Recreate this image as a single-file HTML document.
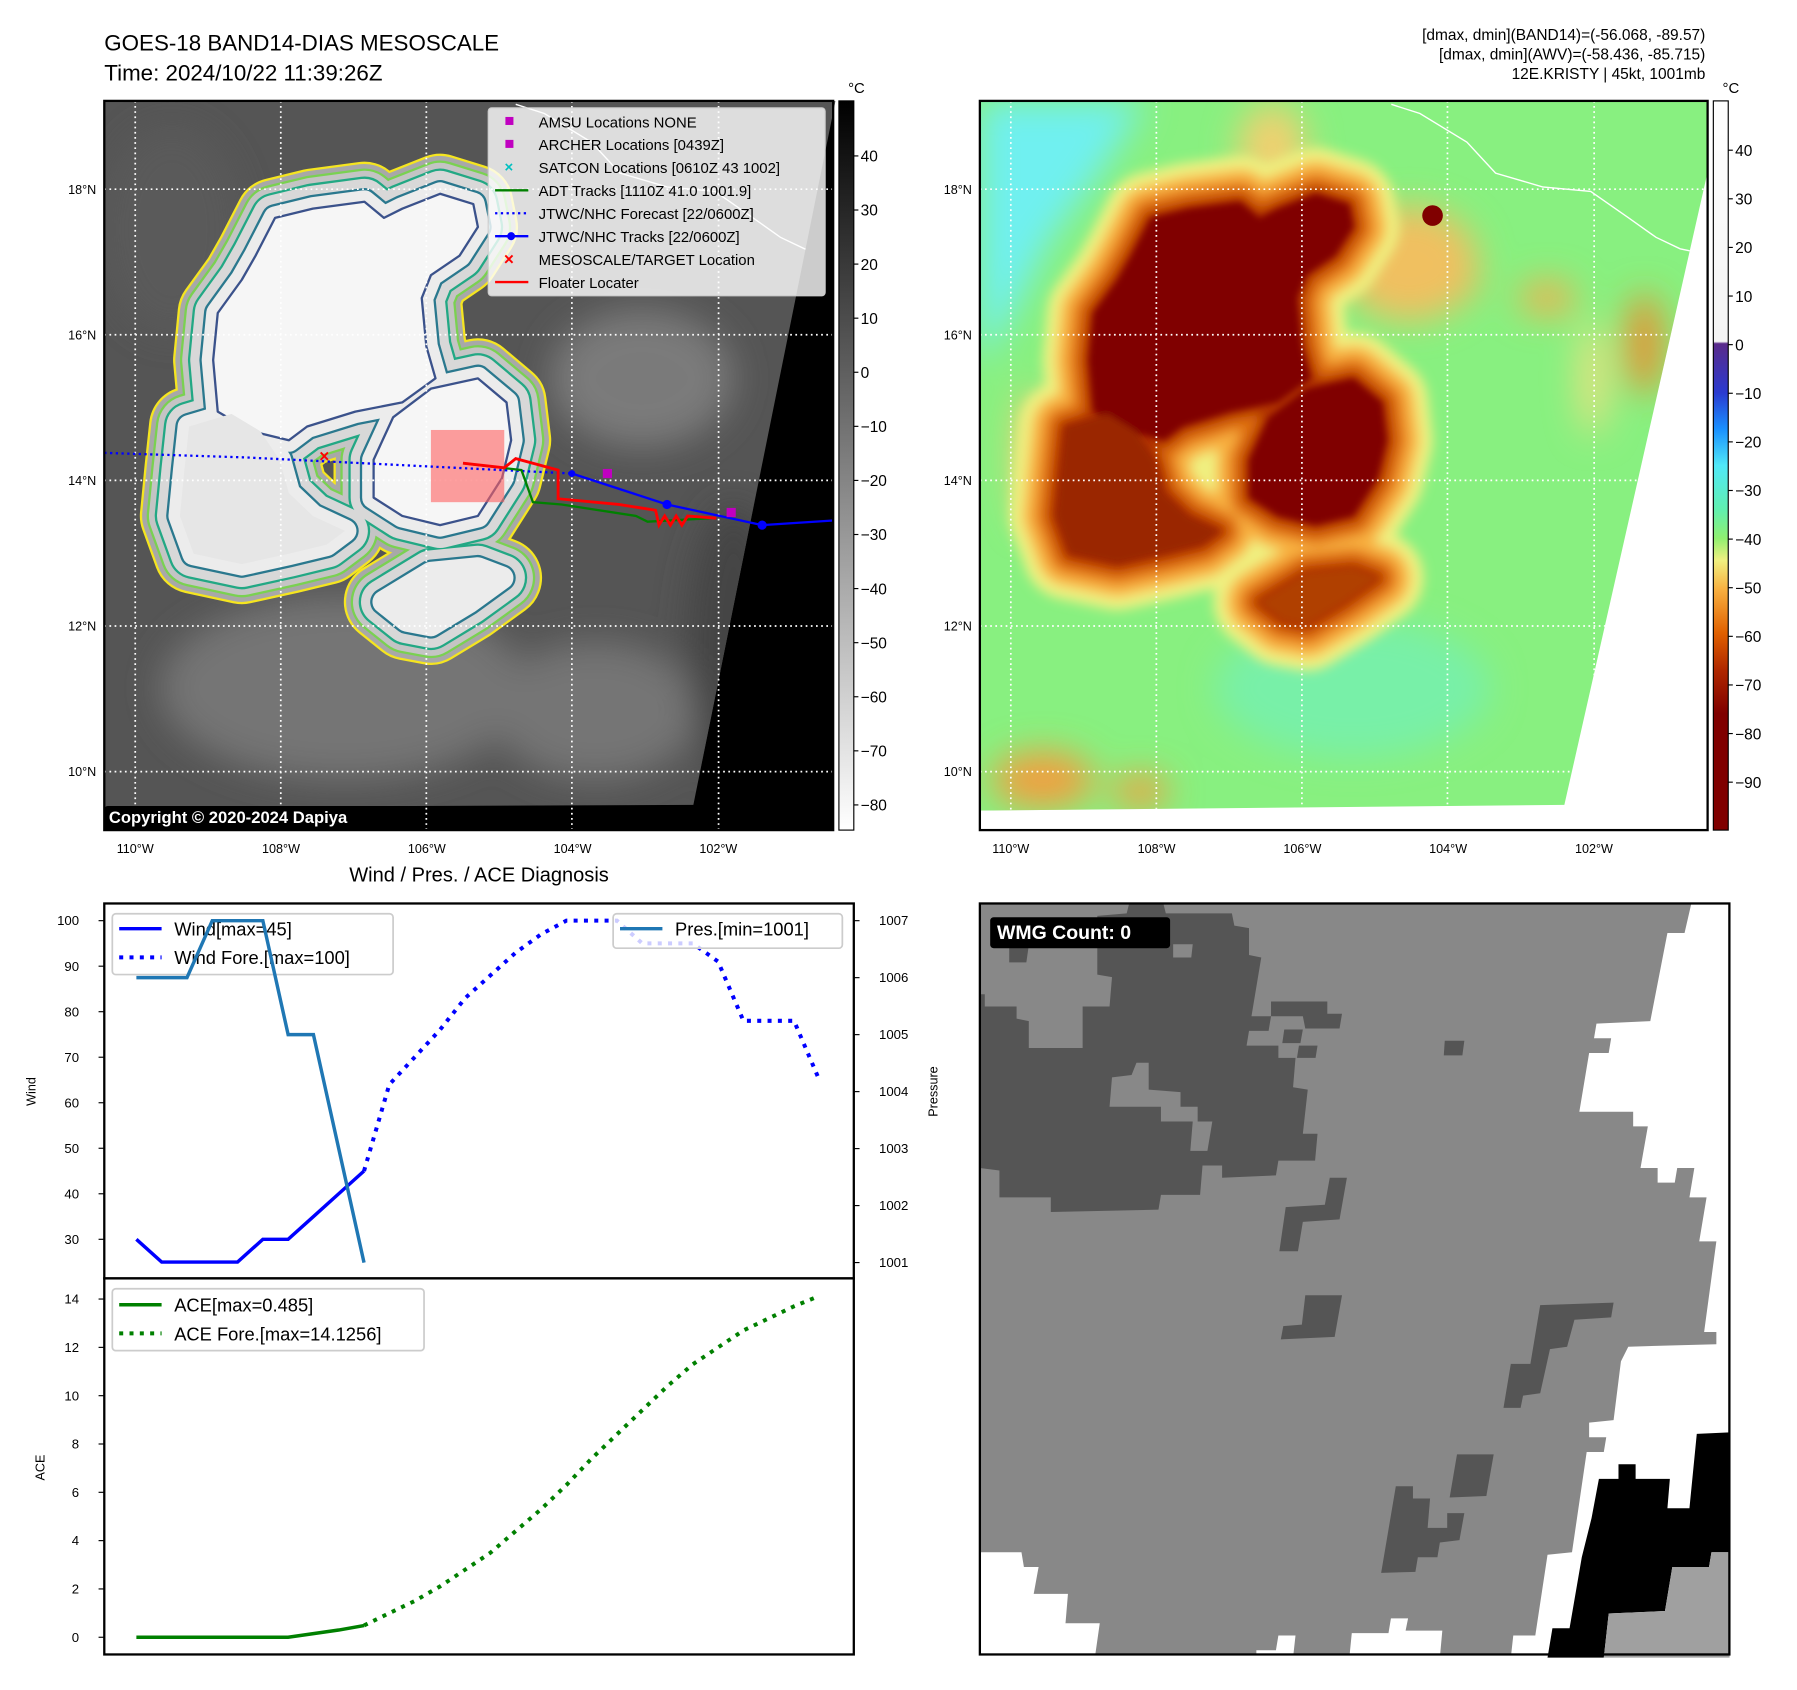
<!DOCTYPE html>
<html><head><meta charset="utf-8"><style>
html,body{margin:0;padding:0;background:#fff;}
svg{display:block;font-family:"Liberation Sans","DejaVu Sans",sans-serif;}
</style></head><body>
<svg id="fig" width="1797" height="1690" viewBox="0 0 1568 1474" preserveAspectRatio="none" xmlns="http://www.w3.org/2000/svg">
<defs>
<filter id="b6" x="-20%" y="-20%" width="140%" height="140%"><feGaussianBlur stdDeviation="5"/></filter>
<filter id="b3" x="-20%" y="-20%" width="140%" height="140%"><feGaussianBlur stdDeviation="3"/></filter>
<filter id="b15" x="-50%" y="-50%" width="200%" height="200%"><feGaussianBlur stdDeviation="15"/></filter>
<clipPath id="clipL"><rect x="91" y="88" width="636" height="636"/></clipPath>
<clipPath id="clipR"><polygon points="855,88 1490,88 1490,150 1365,702 855,707"/></clipPath>
<clipPath id="clipLd"><polygon points="91,88 729,88 605,702 91,704"/></clipPath>
<linearGradient id="gbar" x1="0" y1="0" x2="0" y2="1"><stop offset="0" stop-color="#000"/><stop offset="1" stop-color="#fff"/></linearGradient>
<linearGradient id="cbar" x1="0" y1="0" x2="0" y2="1">
<stop offset="0" stop-color="#ffffff"/><stop offset="0.33" stop-color="#f4f4f4"/>
<stop offset="0.333" stop-color="#5a2a8a"/><stop offset="0.40" stop-color="#2a3ad0"/>
<stop offset="0.45" stop-color="#1a90ff"/><stop offset="0.50" stop-color="#50e8f8"/>
<stop offset="0.56" stop-color="#60f0b0"/><stop offset="0.60" stop-color="#90f070"/>
<stop offset="0.63" stop-color="#f0f080"/><stop offset="0.67" stop-color="#f8b040"/>
<stop offset="0.73" stop-color="#e06000"/><stop offset="0.78" stop-color="#b02800"/>
<stop offset="0.84" stop-color="#800000"/><stop offset="1" stop-color="#800000"/>
</linearGradient>
<path id="pN" d="M987,223 L1004,190 L1037,182 L1082,176 L1099,190 L1115,182 L1148,169 L1177,178 L1181,198 L1165,223 L1140,240 L1132,260 L1136,302 L1144,330 L1115,351 L1074,359 L1032,372 L1016,384 L983,376 L954,359 L950,314 L954,273 L975,244 Z"/>
<path id="pE" d="M1090,401 L1107,364 L1140,339 L1181,330 L1206,351 L1210,384 L1202,417 L1181,450 L1148,458 L1115,450 L1090,434 Z"/>
<path id="pSW" d="M929,372 L966,361 L991,376 L1008,401 L1016,430 L1037,450 L1065,463 L1049,475 L1016,483 L975,492 L933,483 L921,450 L925,409 Z"/>
<path id="pS" d="M1099,525 L1140,500 L1181,496 L1202,504 L1173,525 L1140,545 L1119,541 Z"/>
<g id="shp"><use href="#pN"/><use href="#pE"/><use href="#pSW"/><use href="#pS"/></g>
</defs>

<text x="91" y="44" font-size="19.5">GOES-18 BAND14-DIAS MESOSCALE</text>
<text x="91" y="70" font-size="19.5">Time: 2024/10/22 11:39:26Z</text>
<g font-size="13.5" text-anchor="end">
<text x="1488" y="35">[dmax, dmin](BAND14)=(-56.068, -89.57)</text>
<text x="1488" y="52">[dmax, dmin](AWV)=(-58.436, -85.715)</text>
<text x="1488" y="69">12E.KRISTY | 45kt, 1001mb</text>
</g>

<g>
<rect x="91" y="88" width="636" height="636" fill="#000"/>
<g clip-path="url(#clipLd)">
<rect x="91" y="88" width="640" height="620" fill="#555"/>
<g filter="url(#b15)" fill="#747474">
<ellipse cx="300" cy="600" rx="160" ry="80"/><ellipse cx="520" cy="620" rx="90" ry="60"/>
<ellipse cx="560" cy="330" rx="80" ry="60" fill="#7a7a7a"/><ellipse cx="150" cy="200" rx="60" ry="90" fill="#5a5a5a"/>
<ellipse cx="640" cy="560" rx="40" ry="120" fill="#444"/>
</g>
<g transform="translate(-764,0)" stroke-linejoin="round">
<use href="#shp" fill="#f5e520" stroke="#f5e520" stroke-width="70"/>
<use href="#shp" fill="#a8a8a8" stroke="#a8a8a8" stroke-width="66"/>
<use href="#shp" fill="#7ad151" stroke="#7ad151" stroke-width="58"/>
<use href="#shp" fill="#c4c4c4" stroke="#c4c4c4" stroke-width="54"/>
<use href="#shp" fill="#22a884" stroke="#22a884" stroke-width="44"/>
<use href="#shp" fill="#d8d8d8" stroke="#d8d8d8" stroke-width="40"/>
<use href="#shp" fill="#2a788e" stroke="#2a788e" stroke-width="24"/>
<use href="#shp" fill="#ececec" stroke="#ececec" stroke-width="20"/>
<use href="#pN" fill="#f6f6f6" stroke="#3b528b" stroke-width="2"/>
<use href="#pE" fill="#f6f6f6" stroke="#3b528b" stroke-width="2"/>
<use href="#pSW" fill="#e6e6e6" stroke="none"/>
</g>
<path d="M450,91 L475,99 L516,124 L541,151 L582,163 L624,167 L657,190 L681,207 L702,217 L727,222" fill="none" stroke="#fff" stroke-width="1.2"/>
</g>
<g stroke="#fff" stroke-width="1.5" stroke-dasharray="1.5,3">
<line x1="118" y1="88" x2="118" y2="724"/><line x1="245" y1="88" x2="245" y2="724"/><line x1="372" y1="88" x2="372" y2="724"/><line x1="499" y1="88" x2="499" y2="724"/><line x1="627" y1="88" x2="627" y2="724"/>
<line x1="91" y1="165" x2="727" y2="165"/><line x1="91" y1="292" x2="727" y2="292"/><line x1="91" y1="419" x2="727" y2="419"/><line x1="91" y1="546" x2="727" y2="546"/><line x1="91" y1="673" x2="727" y2="673"/>
</g>
<rect x="376" y="375" width="64" height="63" fill="#ff6060" opacity="0.6"/>
<polyline points="91,395 215,399 499,413" fill="none" stroke="#0000ff" stroke-width="2" stroke-dasharray="2,3"/>
<polyline points="499,413 582,440 665,458 727,454" fill="none" stroke="#0000ff" stroke-width="2"/>
<circle cx="499" cy="413" r="3" fill="#00f"/><circle cx="582" cy="440" r="4" fill="#00f"/><circle cx="665" cy="458" r="4" fill="#00f"/>
<polyline points="404,404 455,410 465,438 490,440 555,450 565,455 620,452" fill="none" stroke="#008000" stroke-width="2"/>
<polyline points="404,404 440,408 450,400 487,410 487,435 540,440 572,445 575,458 580,450 585,458 590,450 595,458 600,450 625,452" fill="none" stroke="#ff0000" stroke-width="2.5"/>
<text x="283" y="403" font-size="15" fill="#f00" text-anchor="middle" font-weight="bold">×</text>
<rect x="526" y="409" width="8" height="8" fill="#c000c0"/>
<rect x="634" y="443" width="8" height="8" fill="#c000c0"/>
<rect x="91" y="88" width="636" height="636" fill="none" stroke="#000" stroke-width="2"/>
<g>
<rect x="426" y="94" width="294" height="164" rx="3" fill="#fff" fill-opacity="0.8" stroke="#ccc"/>
<g font-size="13">
<rect x="441" y="102" width="7" height="7" fill="#c000c0"/><text x="470" y="111">AMSU Locations NONE</text>
<rect x="441" y="122" width="7" height="7" fill="#c000c0"/><text x="470" y="131">ARCHER Locations [0439Z]</text>
<text x="444" y="150" fill="#00c0c0" text-anchor="middle" font-weight="bold">×</text><text x="470" y="151">SATCON Locations [0610Z 43 1002]</text>
<line x1="432" y1="166" x2="461" y2="166" stroke="#008000" stroke-width="2"/><text x="470" y="171">ADT Tracks [1110Z 41.0 1001.9]</text>
<line x1="432" y1="186" x2="461" y2="186" stroke="#00f" stroke-width="2" stroke-dasharray="2,3"/><text x="470" y="191">JTWC/NHC Forecast [22/0600Z]</text>
<line x1="432" y1="206" x2="461" y2="206" stroke="#00f" stroke-width="2"/><circle cx="446" cy="206" r="3.5" fill="#00f"/><text x="470" y="211">JTWC/NHC Tracks [22/0600Z]</text>
<text x="444" y="231" fill="#f00" text-anchor="middle" font-weight="bold" font-size="15">×</text><text x="470" y="231">MESOSCALE/TARGET Location</text>
<line x1="432" y1="246" x2="461" y2="246" stroke="#f00" stroke-width="2"/><text x="470" y="251">Floater Locater</text>
</g></g>
<rect x="91" y="703" width="267" height="20" rx="3" fill="#000"/>
<text x="95" y="718" font-size="14.5" font-weight="bold" fill="#fff">Copyright © 2020-2024 Dapiya</text>
</g>
<g>
<rect x="732" y="88" width="13" height="636" fill="url(#gbar)" stroke="#000" stroke-width="1"/>
<text x="740" y="81" font-size="13">°C</text>
<g font-size="13.5" id="lcb"></g>
</g>
<g font-size="11" text-anchor="end" id="llat"></g>
<g font-size="11" text-anchor="middle" id="llon"></g>

<g>
<rect x="855" y="88" width="635" height="636" fill="#fff"/>
<g clip-path="url(#clipR)">
<rect x="855" y="88" width="640" height="625" fill="#88f080"/>
<g filter="url(#b15)">
<polygon points="855,88 1000,88 960,150 915,210 885,270 855,320" fill="#70f0f0"/>
<ellipse cx="1180" cy="600" rx="120" ry="60" fill="#78f0a8"/>
<ellipse cx="1270" cy="250" rx="20" ry="12" fill="#f0a040"/><ellipse cx="1350" cy="260" rx="25" ry="15" fill="#f0b050"/>
<ellipse cx="1435" cy="300" rx="16" ry="45" fill="#e89030"/><ellipse cx="1390" cy="330" rx="12" ry="50" fill="#f0e080"/>
<ellipse cx="910" cy="680" rx="45" ry="25" fill="#f0a040"/><ellipse cx="995" cy="690" rx="25" ry="15" fill="#f0a040"/>
<ellipse cx="900" cy="400" rx="15" ry="60" fill="#f0d070"/><ellipse cx="1110" cy="130" rx="30" ry="40" fill="#f0d070"/>
<ellipse cx="1230" cy="230" rx="60" ry="50" fill="#f0c060"/>
</g>
<g filter="url(#b6)" stroke-linejoin="round">
<use href="#shp" fill="#f0f080" stroke="#f0f080" stroke-width="80"/>
<use href="#shp" fill="#f8b040" stroke="#f8b040" stroke-width="56"/>
<use href="#shp" fill="#e07010" stroke="#e07010" stroke-width="34"/>
<use href="#shp" fill="#b03000" stroke="#b03000" stroke-width="14"/>
</g>
<g filter="url(#b3)">
<use href="#pN" fill="#800000"/><use href="#pE" fill="#800000"/>
<use href="#pSW" fill="#9a2606"/><use href="#pS" fill="#b04000"/>
</g>
<circle cx="1250" cy="188" r="9" fill="#800000"/>
<path d="M1214,91 L1239,99 L1280,124 L1305,151 L1346,163 L1388,167 L1421,190 L1445,207 L1466,217 L1490,222" fill="none" stroke="#fff" stroke-width="1.2"/>
</g>
<g stroke="#fff" stroke-width="1.5" stroke-dasharray="1.5,3" clip-path="url(#clipR)">
<line x1="882" y1="88" x2="882" y2="724"/><line x1="1009" y1="88" x2="1009" y2="724"/><line x1="1136" y1="88" x2="1136" y2="724"/><line x1="1263" y1="88" x2="1263" y2="724"/><line x1="1391" y1="88" x2="1391" y2="724"/>
<line x1="855" y1="165" x2="1490" y2="165"/><line x1="855" y1="292" x2="1490" y2="292"/><line x1="855" y1="419" x2="1490" y2="419"/><line x1="855" y1="546" x2="1490" y2="546"/><line x1="855" y1="673" x2="1490" y2="673"/>
</g>
<rect x="855" y="88" width="635" height="636" fill="none" stroke="#000" stroke-width="2"/>
</g>
<g>
<rect x="1495" y="88" width="13" height="636" fill="url(#cbar)" stroke="#000" stroke-width="1"/>
<text x="1503" y="81" font-size="13">°C</text>
<g font-size="13.5" id="rcb"></g>
</g>
<g font-size="11" text-anchor="end" id="rlat"></g>
<g font-size="11" text-anchor="middle" id="rlon"></g>

<text x="418" y="769" font-size="17.5" text-anchor="middle">Wind / Pres. / ACE Diagnosis</text>
<g id="windChart"></g>
<g id="aceChart"></g>

<g>
<rect x="855" y="788" width="654" height="655" fill="#888"/>
<g transform="translate(855,786) scale(0.427)">
<polygon fill="#555" points="0,190 0,545 40,550 40,605 145,605 145,635 365,630 370,600 450,600 455,540 495,540 495,565 605,560 610,530 685,530 690,475 660,475 670,385 640,380 645,320 610,320 610,295 545,295 550,265 590,265 595,235 555,235 575,115 550,110 550,55 520,50 515,25 380,25 375,5 305,5 300,25 240,30 240,150 270,155 265,215 210,215 210,300 100,300 100,245 75,240 75,215 10,215 10,190"/>
<polygon fill="#888" points="270,360 310,355 320,330 345,330 345,385 410,390 410,420 445,420 445,450 475,450 465,510 430,510 435,450 370,450 370,420 265,420"/>
<polygon fill="#888" points="395,88 435,88 432,115 395,115"/>
<polygon fill="#555" points="60,90 100,90 95,125 60,125"/>
<polygon fill="#555" points="595,205 710,205 710,230 740,230 735,260 665,260 660,235 595,235"/>
<polygon fill="#555" points="622,262 660,262 655,290 618,290"/><polygon fill="#555" points="652,295 690,295 686,320 648,320"/>
<polygon fill="#555" points="950,285 990,285 986,315 948,315"/>
<polygon fill="#555" points="625,625 705,620 715,565 750,565 735,650 660,655 650,715 612,715"/>
<polygon fill="#555" points="665,805 740,805 725,890 615,895 620,868 658,865"/>
<polygon fill="#555" points="1145,825 1295,820 1290,850 1215,855 1200,910 1165,915 1145,1005 1110,1010 1105,1035 1070,1035 1085,945 1125,945"/>
<polygon fill="#555" points="975,1130 1050,1130 1035,1215 960,1218"/>
<polygon fill="#555" points="850,1195 885,1195 885,1220 920,1220 915,1280 955,1280 955,1250 990,1250 980,1305 940,1310 935,1340 895,1340 890,1370 820,1372"/>
<polygon fill="#fff" points="1455,0 1440,65 1405,65 1370,245 1260,250 1255,280 1290,280 1285,310 1245,310 1225,430 1335,430 1335,460 1365,460 1350,545 1385,545 1385,575 1420,575 1425,545 1460,545 1450,605 1485,605 1470,695 1505,695 1480,880 1505,880 1505,905 1325,910 1310,940 1295,1060 1245,1065 1245,1095 1280,1095 1275,1125 1240,1125 1210,1330 1160,1335 1135,1500 1090,1500 1085,1545 1532,1545 1532,0"/>
<polygon fill="#000" points="1465,1088 1532,1085 1532,1330 1495,1330 1490,1360 1415,1360 1400,1450 1285,1455 1275,1545 1160,1545 1170,1485 1205,1485 1230,1340 1250,1260 1265,1180 1305,1180 1305,1150 1340,1150 1340,1180 1410,1180 1405,1240 1450,1240"/>
<polygon fill="#a0a0a0" points="1495,1330 1532,1330 1532,1545 1275,1545 1285,1455 1400,1450 1415,1360 1490,1360"/>
<polygon fill="#fff" points="0,1330 85,1330 90,1360 120,1360 110,1415 180,1415 175,1475 245,1475 235,1545 0,1545"/>
<polygon fill="#fff" points="565,1530 605,1530 610,1500 645,1500 640,1545 565,1545"/>
<polygon fill="#fff" points="755,1545 760,1495 835,1495 840,1465 875,1465 870,1490 945,1490 940,1545"/>
</g>
<rect x="855" y="788" width="654" height="655" fill="none" stroke="#000" stroke-width="2"/>
<rect x="864" y="800" width="157" height="27" rx="3" fill="#000"/>
<text x="870" y="819" font-size="17" font-weight="bold" fill="#fff">WMG Count: 0</text>
</g>
</svg>
<script>
// ---- chart data ----
const windObs = [30, 25, 25, 25, 25, 30, 30, 35, 40, 45];
const presObs = [1006, 1006, 1006, 1007, 1007, 1007, 1005, 1005, 1003, 1001];
const windFore = [45, 64, 70, 76, 83, 88, 93, 97, 100, 100, 100, 95, 95, 95, 91, 78, 78, 78, 65];
const aceObs = [0, 0, 0, 0, 0, 0, 0, 0.15, 0.3, 0.485];
const aceFore = [0.49, 1.0, 1.5, 2.1, 2.8, 3.5, 4.4, 5.3, 6.3, 7.4, 8.4, 9.4, 10.4, 11.3, 12.0, 12.7, 13.2, 13.7, 14.13];
const windTicks = [30, 40, 50, 60, 70, 80, 90, 100];
const presTicks = [1001, 1002, 1003, 1004, 1005, 1006, 1007];
const aceTicks = [0, 2, 4, 6, 8, 10, 12, 14];
const irTicks = [40, 30, 20, 10, 0, -10, -20, -30, -40, -50, -60, -70, -80];
const awvTicks = [40, 30, 20, 10, 0, -10, -20, -30, -40, -50, -60, -70, -80, -90];
const latTicks = ['18°N', '16°N', '14°N', '12°N', '10°N'];
const lonTicks = ['110°W', '108°W', '106°W', '104°W', '102°W'];

const NS = 'http://www.w3.org/2000/svg';
function mk(tag, attrs, parent) {
  const e = document.createElementNS(NS, tag);
  for (const k in attrs) e.setAttribute(k, attrs[k]);
  parent.appendChild(e);
  return e;
}
const xS = i => 119 + i * 22.07;
const yW = v => 803 + (100 - v) * 3.97;
const yP = p => 803 + (1007 - p) * 49.7;
const yA = a => 1428 - a * 21.07;
const yIR = v => 136 + (40 - v) * 4.717;
const yAWV = v => 131 + (40 - v) * 4.24;
const latY = i => 165 + i * 127;
const lonX = i => 118 + i * 127.2;

const llat = document.getElementById('llat'), rlat = document.getElementById('rlat');
const llon = document.getElementById('llon'), rlon = document.getElementById('rlon');
latTicks.forEach((t, i) => {
  const a = mk('text', {x: 84, y: latY(i) + 4}, llat); a.textContent = t;
  
  
  const b = mk('text', {x: 848, y: latY(i) + 4}, rlat); b.textContent = t;
  
  
});
lonTicks.forEach((t, i) => {
  const a = mk('text', {x: lonX(i), y: 744}, llon); a.textContent = t;
  
  
  const b = mk('text', {x: lonX(i) + 764, y: 744}, rlon); b.textContent = t;
  
  
});
const lcb = document.getElementById('lcb');
irTicks.forEach(v => {
  mk('line', {x1: 745, x2: 749, y1: yIR(v), y2: yIR(v), stroke: '#000'}, lcb);
  const t = mk('text', {x: 751, y: yIR(v) + 5}, lcb); t.textContent = v < 0 ? '\u2212' + (-v) : v;
  
  
});
const rcb = document.getElementById('rcb');
awvTicks.forEach(v => {
  mk('line', {x1: 1508, x2: 1512, y1: yAWV(v), y2: yAWV(v), stroke: '#000'}, rcb);
  const t = mk('text', {x: 1514, y: yAWV(v) + 5}, rcb); t.textContent = v < 0 ? '\u2212' + (-v) : v;
  
  
});

const wc = document.getElementById('windChart');
mk('rect', {x: 91, y: 788, width: 654, height: 327, fill: '#fff'}, wc);
windTicks.forEach(v => {
  mk('line', {x1: 86, x2: 91, y1: yW(v), y2: yW(v), stroke: '#000'}, wc);
  const t = mk('text', {x: 69, y: yW(v) + 4, 'font-size': 11.5, 'text-anchor': 'end'}, wc); t.textContent = v;
  
  
});
presTicks.forEach(v => {
  mk('line', {x1: 745, x2: 750, y1: yP(v), y2: yP(v), stroke: '#000'}, wc);
  const t = mk('text', {x: 767, y: yP(v) + 4, 'font-size': 11.5}, wc); t.textContent = v;
  
  
});
let t1 = mk('text', {x: 31, y: 952, 'font-size': 11, 'text-anchor': 'middle', transform: 'rotate(-90 31 952)'}, wc); t1.textContent = 'Wind';


let t2 = mk('text', {x: 818, y: 952, 'font-size': 11, 'text-anchor': 'middle', transform: 'rotate(-90 818 952)'}, wc); t2.textContent = 'Pressure';



const wf = mk('polyline', {points: windFore.map((v, i) => xS(i + 9) + ',' + yW(v)).join(' '), fill: 'none', stroke: '#0000ff', 'stroke-width': 3.5, 'stroke-dasharray': '3.5,5.5'}, wc);


const wo = mk('polyline', {points: windObs.map((v, i) => xS(i) + ',' + yW(v)).join(' '), fill: 'none', stroke: '#0000ff', 'stroke-width': 3}, wc);


const wl = mk('g', {}, wc);


mk('rect', {x: 98, y: 797, width: 245, height: 53, rx: 3, fill: '#fff', 'fill-opacity': 0.8, stroke: '#ccc', 'stroke-width': 1.5}, wl);
mk('line', {x1: 104, x2: 141, y1: 810, y2: 810, stroke: '#00f', 'stroke-width': 3}, wl);
mk('line', {x1: 104, x2: 141, y1: 835, y2: 835, stroke: '#00f', 'stroke-width': 3.5, 'stroke-dasharray': '3.5,5.5'}, wl);
let l1 = mk('text', {x: 152, y: 816, 'font-size': 16}, wl); l1.textContent = 'Wind[max=45]';
let l2 = mk('text', {x: 152, y: 841, 'font-size': 16}, wl); l2.textContent = 'Wind Fore.[max=100]';
const po = mk('polyline', {points: presObs.map((v, i) => xS(i) + ',' + yP(v)).join(' '), fill: 'none', stroke: '#1f77b4', 'stroke-width': 3}, wc);


const pl = mk('g', {}, wc);


mk('rect', {x: 535, y: 797, width: 200, height: 30, rx: 3, fill: '#fff', 'fill-opacity': 0.8, stroke: '#ccc', 'stroke-width': 1.5}, pl);
mk('line', {x1: 541, x2: 578, y1: 810, y2: 810, stroke: '#1f77b4', 'stroke-width': 3}, pl);
let l3 = mk('text', {x: 589, y: 816, 'font-size': 16}, pl); l3.textContent = 'Pres.[min=1001]';
mk('rect', {x: 91, y: 788, width: 654, height: 327, fill: 'none', stroke: '#000', 'stroke-width': 2}, wc);

const ac = document.getElementById('aceChart');
mk('rect', {x: 91, y: 1115, width: 654, height: 328, fill: '#fff'}, ac);
aceTicks.forEach(v => {
  mk('line', {x1: 86, x2: 91, y1: yA(v), y2: yA(v), stroke: '#000'}, ac);
  const t = mk('text', {x: 69, y: yA(v) + 4, 'font-size': 11.5, 'text-anchor': 'end'}, ac); t.textContent = v;
  
  
});
let t3 = mk('text', {x: 39, y: 1280, 'font-size': 11, 'text-anchor': 'middle', transform: 'rotate(-90 39 1280)'}, ac); t3.textContent = 'ACE';


const af = mk('polyline', {points: aceFore.map((v, i) => xS(i + 9) + ',' + yA(v)).join(' '), fill: 'none', stroke: '#008000', 'stroke-width': 3.5, 'stroke-dasharray': '3.5,5.5'}, ac);


const ao = mk('polyline', {points: aceObs.map((v, i) => xS(i) + ',' + yA(v)).join(' '), fill: 'none', stroke: '#008000', 'stroke-width': 3}, ac);


const al = mk('g', {}, ac);


mk('rect', {x: 98, y: 1124, width: 272, height: 54, rx: 3, fill: '#fff', 'fill-opacity': 0.8, stroke: '#ccc', 'stroke-width': 1.5}, al);
mk('line', {x1: 104, x2: 141, y1: 1138, y2: 1138, stroke: '#008000', 'stroke-width': 3}, al);
mk('line', {x1: 104, x2: 141, y1: 1163, y2: 1163, stroke: '#008000', 'stroke-width': 3.5, 'stroke-dasharray': '3.5,5.5'}, al);
let l4 = mk('text', {x: 152, y: 1144, 'font-size': 16}, al); l4.textContent = 'ACE[max=0.485]';
let l5 = mk('text', {x: 152, y: 1169, 'font-size': 16}, al); l5.textContent = 'ACE Fore.[max=14.1256]';
mk('rect', {x: 91, y: 1115, width: 654, height: 328, fill: 'none', stroke: '#000', 'stroke-width': 2}, ac);
</script>
</body></html>
